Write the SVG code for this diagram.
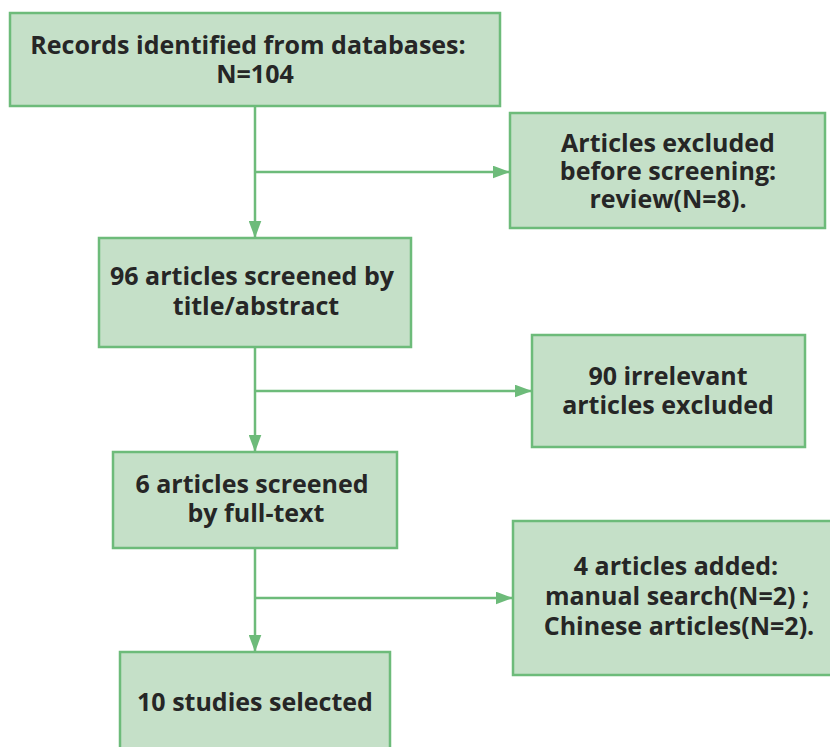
<svg xmlns="http://www.w3.org/2000/svg" width="830" height="747" viewBox="0 0 830 747">
<defs>
<marker id="ah" viewBox="0 0 10 10" refX="10" refY="5" markerWidth="7" markerHeight="5.2" markerUnits="strokeWidth" orient="auto" preserveAspectRatio="none">
<path d="M0,0 L10,5 L0,10 Z" fill="#6dbb7a"/>
</marker>
<style>
.box rect{fill:#c5e0c8;stroke:#6dbb7a;stroke-width:2.5}
.box text{font-family:"Open Sans","Noto Sans","Liberation Sans",sans-serif;font-weight:bold;font-size:25px;fill:#262626;text-anchor:middle}
.conn path{fill:none;stroke:#6dbb7a;stroke-width:2.5}
</style>
</defs>
<rect width="830" height="747" fill="#ffffff"/>
<g class="conn">
<path d="M255,106 V238" marker-end="url(#ah)"/>
<path d="M255,172 H510" marker-end="url(#ah)"/>
<path d="M255,347 V452" marker-end="url(#ah)"/>
<path d="M255,391 H532" marker-end="url(#ah)"/>
<path d="M255,548 V652" marker-end="url(#ah)"/>
<path d="M255,598 H513" marker-end="url(#ah)"/>
</g>
<g id="n1" class="box">
<rect x="10" y="13" width="490" height="93"/>
<text x="248" y="54">Records identified from databases:</text>
<text x="255" y="83">N=104</text>
</g>
<g id="n2" class="box">
<rect x="510" y="113" width="315" height="115"/>
<text x="668" y="152">Articles excluded</text>
<text x="668" y="180">before screening:</text>
<text x="668" y="208">review(N=8).</text>
</g>
<g id="n3" class="box">
<rect x="99" y="238" width="312" height="109"/>
<text x="252" y="285">96 articles screened by</text>
<text x="256" y="315">title/abstract</text>
</g>
<g id="n4" class="box">
<rect x="532" y="335" width="273" height="112"/>
<text x="668" y="385">90 irrelevant</text>
<text x="668" y="414">articles excluded</text>
</g>
<g id="n5" class="box">
<rect x="113" y="452" width="284" height="96"/>
<text x="252" y="493">6 articles screened</text>
<text x="256" y="522">by full-text</text>
</g>
<g id="n6" class="box">
<rect x="513" y="521" width="328" height="154"/>
<text x="676" y="575">4 articles added:</text>
<text x="677" y="605">manual search(N=2) ;</text>
<text x="679" y="635">Chinese articles(N=2).</text>
</g>
<g id="n7" class="box">
<rect x="120" y="652" width="270" height="110"/>
<text x="255" y="711">10 studies selected</text>
</g>
</svg>
